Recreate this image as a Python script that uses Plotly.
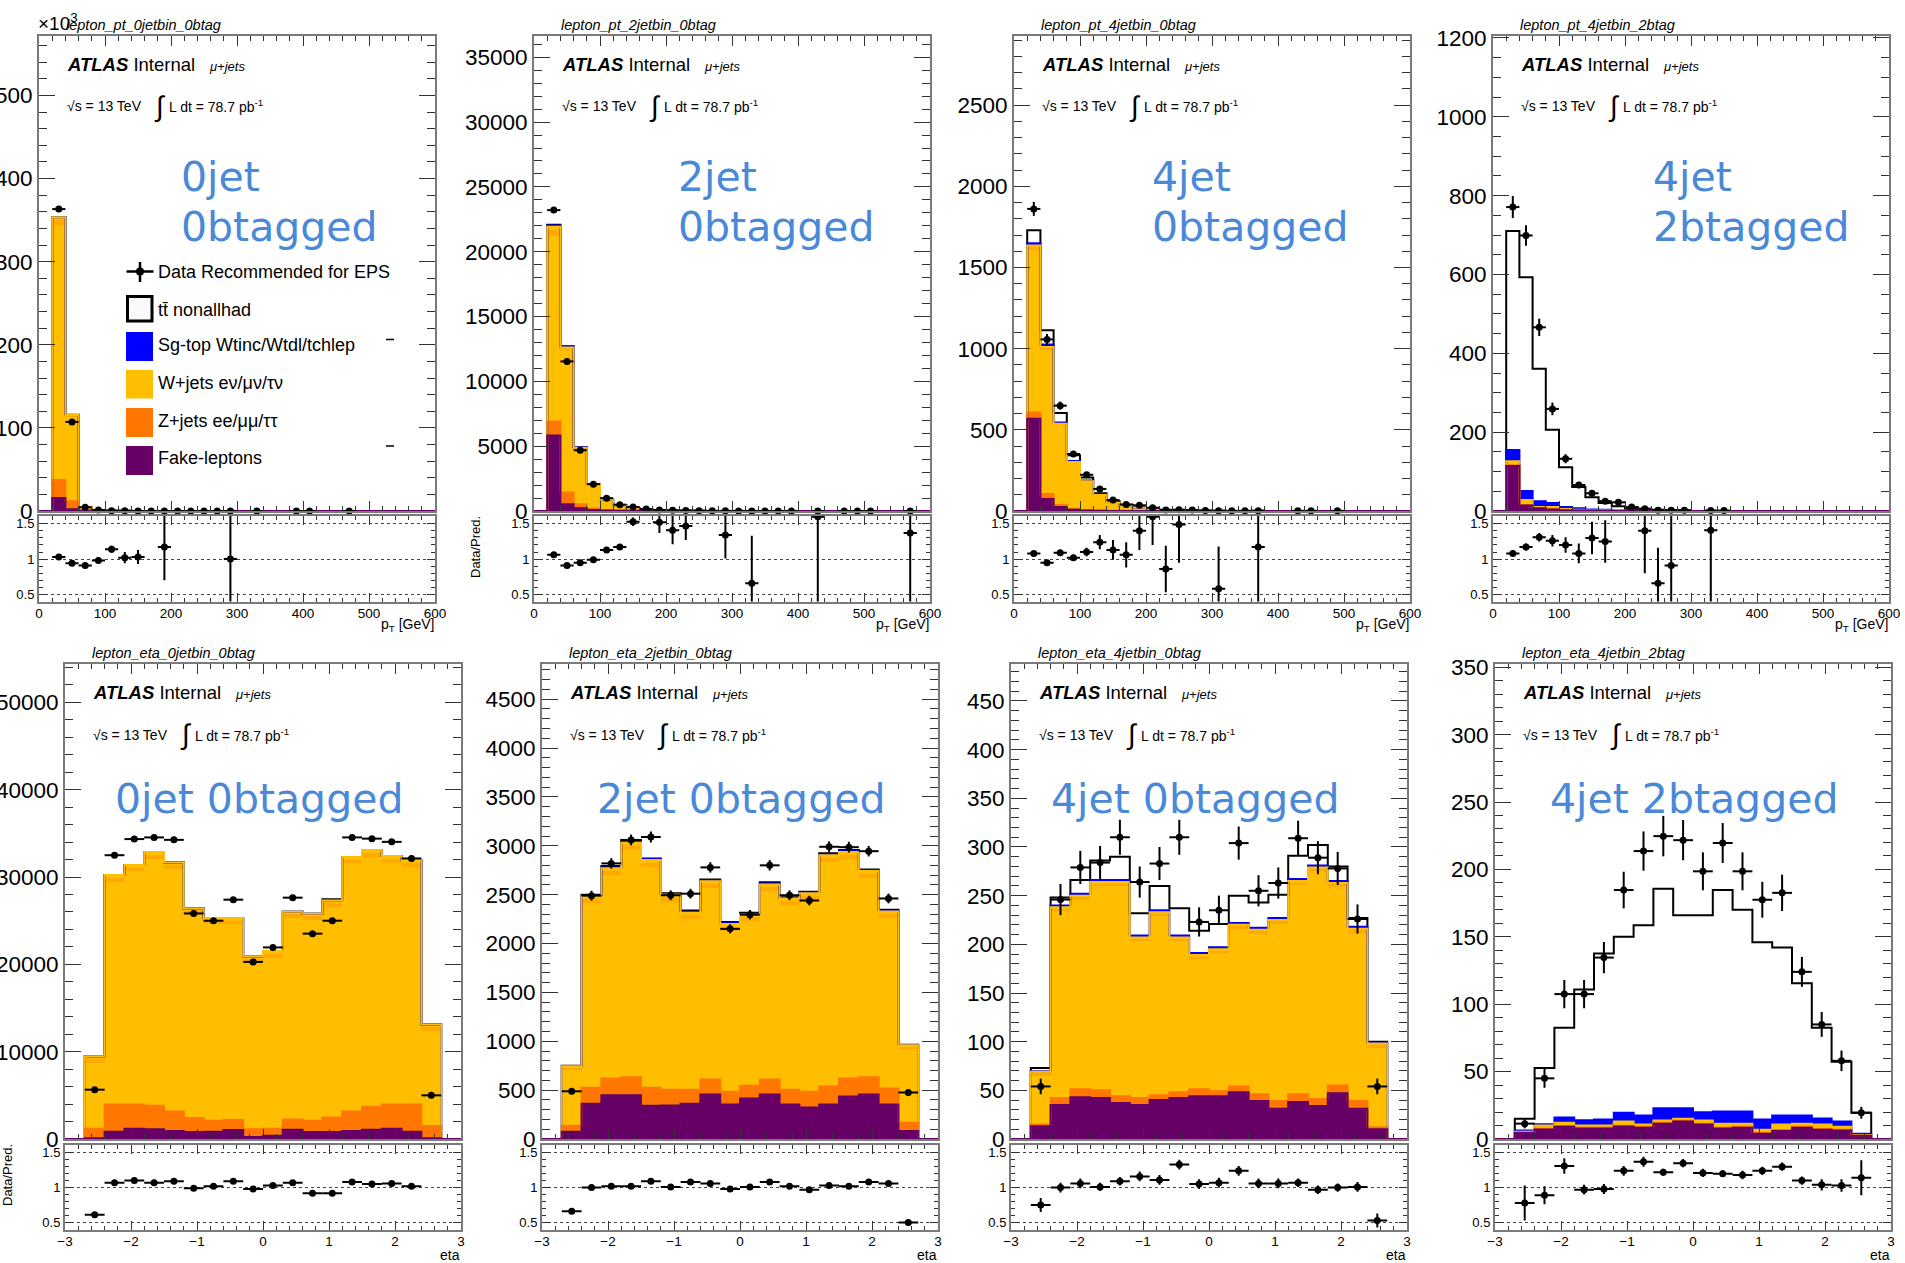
import plotly.graph_objects as go

FIG_W, FIG_H = 1905, 1263
FONT = "Liberation Sans, Arial, Helvetica, sans-serif"
LABEL_FONT = "DejaVu Sans, Verdana, sans-serif"

# ---------------- bins ----------------
PT_CENTERS = [10, 30, 50, 70, 90, 110, 130, 150, 170, 190,
              210, 230, 250, 270, 290, 310, 330, 350, 370, 390,
              410, 430, 450, 470, 490, 510, 530, 550, 570, 590]
PT_BIN_WIDTH = 20
ETA_CENTERS = [-2.85, -2.55, -2.25, -1.95, -1.65, -1.35, -1.05, -0.75, -0.45, -0.15,
               0.15, 0.45, 0.75, 1.05, 1.35, 1.65, 1.95, 2.25, 2.55, 2.85]
ETA_BIN_WIDTH = 0.3

# ---------------- panel 1 : lepton_pt_0jetbin_0btag (units of 10^3) ----------------
P1_FAKE = [0, 15.5, 2.0, 0.3, 0.1, 0.05, 0.02, 0.01, 0, 0,
           0, 0, 0, 0, 0, 0, 0, 0, 0, 0,
           0, 0, 0, 0, 0, 0, 0, 0, 0, 0]
P1_ZJETS = [0, 21.7, 9.6, 0.5, 0.1, 0.05, 0.02, 0.01, 0, 0,
            0, 0, 0, 0, 0, 0, 0, 0, 0, 0,
            0, 0, 0, 0, 0, 0, 0, 0, 0, 0]
P1_WJETS = [0, 306.8, 102.5, 4.0, 1.0, 0.24, 0.15, 0.07, 0.04, 0.02,
            0.012, 0.008, 0.006, 0.004, 0.003, 0.002, 0.002, 0.001, 0.001, 0.001,
            0.001, 0, 0, 0, 0, 0, 0, 0, 0, 0]
P1_WBAND = [0, 6.0, 1.2, 0, 0, 0, 0, 0, 0, 0,
            0, 0, 0, 0, 0, 0, 0, 0, 0, 0,
            0, 0, 0, 0, 0, 0, 0, 0, 0, 0]
P1_WTOP = [0, 3.6, 0.3, 0, 0, 0, 0, 0, 0, 0,
           0, 0, 0, 0, 0, 0, 0, 0, 0, 0,
           0, 0, 0, 0, 0, 0, 0, 0, 0, 0]
P1_SGTOP = [0, 0, 0, 0, 0, 0, 0, 0, 0, 0,
            0, 0, 0, 0, 0, 0, 0, 0, 0, 0,
            0, 0, 0, 0, 0, 0, 0, 0, 0, 0]
P1_TTBAR = [0, 0.3, 0.3, 0.05, 0.02, 0.01, 0, 0, 0, 0,
            0, 0, 0, 0, 0, 0, 0, 0, 0, 0,
            0, 0, 0, 0, 0, 0, 0, 0, 0, 0]
P1_DATA = [None, 363.3, 107.2, 4.5, 1.2, 0.4, 0.2, 0.1, 0.05, 0.03,
           0.02, 0.012, 0.01, 0.008, 0.005, None, 0.003, None, None, 0.002,
           0.002, None, None, 0.001, None, None, None, None, None, None]
P1_DATA_ERR = [0, 0.6, 0.33, 0.07, 0.035, 0.02, 0.014, 0.01, 0.007, 0.005,
               0.004, 0.003, 0.003, 0.003, 0.002, 0, 0.002, 0, 0, 0.001,
               0.001, 0, 0, 0.001, 0, 0, 0, 0, 0, 0]
P1_RATIO = [None, 1.03, 0.94, 0.91, 0.98, 1.14, 1.02, 1.03, None, 1.17,
            None, None, None, None, 1.0, None, None, None, None, None,
            None, None, None, None, None, None, None, None, None, None]
P1_RATIO_ERR = [0, 0.004, 0.006, 0.01, 0.02, 0.05, 0.08, 0.1, 0, 0.47,
                0, 0, 0, 0, 1.0, 0, 0, 0, 0, 0,
                0, 0, 0, 0, 0, 0, 0, 0, 0, 0]

# ---------------- panel 2 : lepton_pt_2jetbin_0btag ----------------
P2_FAKE = [0, 5830, 525, 216, 80, 30, 15, 8, 4, 2,
           1, 1, 0, 0, 0, 0, 0, 0, 0, 0,
           0, 0, 0, 0, 0, 0, 0, 0, 0, 0]
P2_ZJETS = [0, 1080, 895, 309, 120, 50, 25, 12, 6, 3,
            2, 1, 1, 0, 0, 0, 0, 0, 0, 0,
            0, 0, 0, 0, 0, 0, 0, 0, 0, 0]
P2_WJETS = [0, 14290, 11040, 4330, 1860, 780, 370, 178, 80, 48,
            32, 22, 9, 7.5, 7, 4, 4.5, 1.5, 1, 1,
            0.8, 1.2, 0.5, 0.5, 0.5, 0.4, 0.3, 0.3, 0.73, 0.2]
P2_WBAND = [0, 480, 100, 30, 0, 0, 0, 0, 0, 0,
            0, 0, 0, 0, 0, 0, 0, 0, 0, 0,
            0, 0, 0, 0, 0, 0, 0, 0, 0, 0]
P2_WTOP = [0, 250, 60, 0, 0, 0, 0, 0, 0, 0,
           0, 0, 0, 0, 0, 0, 0, 0, 0, 0,
           0, 0, 0, 0, 0, 0, 0, 0, 0, 0]
P2_SGTOP = [0, 100, 60, 30, 15, 8, 5, 3, 0, 0,
            0, 0, 0, 0, 0, 0, 0, 0, 0, 0,
            0, 0, 0, 0, 0, 0, 0, 0, 0, 0]
P2_TTBAR = [0, 50, 30, 20, 15, 8, 4, 2, 0, 0,
            0, 0, 0, 0, 0, 0, 0, 0, 0, 0,
            0, 0, 0, 0, 0, 0, 0, 0, 0, 0]
P2_DATA = [None, 23210, 11540, 4690, 2070, 990, 490, 310, 150, 80,
           50, 35, 20, 15, 10, 8, 3, 3, 2, 2,
           None, 2, None, 1, 1, 1, None, None, 1, None]
P2_DATA_ERR = [0, 152, 107, 68, 45, 31, 22, 18, 12, 9,
               7, 6, 4.5, 4, 3, 3, 1.7, 1.7, 1.4, 1.4,
               0, 1.4, 0, 1, 1, 1, 0, 0, 1, 0]
P2_RATIO = [None, 1.06, 0.91, 0.95, 0.99, 1.13, 1.17, 1.53, None, 1.52,
            1.41, 1.47, None, None, 1.34, None, 0.66, None, None, None,
            None, 1.60, None, None, None, None, None, None, 1.37, None]
P2_RATIO_ERR = [0, 0.01, 0.01, 0.015, 0.02, 0.03, 0.04, 0.06, 0, 0.15,
                0.2, 0.2, 0, 0, 0.33, 0, 0.67, 0, 0, 0,
                0, 1.6, 0, 0, 0, 0, 0, 0, 1.37, 0]

# ---------------- panel 3 : lepton_pt_4jetbin_0btag ----------------
P3_FAKE = [0, 569, 74, 25, 8, 3, 1, 0.5, 0.3, 0,
           0, 0, 0, 0, 0, 0, 0, 0, 0, 0,
           0, 0, 0, 0, 0, 0, 0, 0, 0, 0]
P3_ZJETS = [0, 37, 30, 12, 6, 3, 2, 1, 0.5, 0.3,
            0, 0, 0, 0, 0, 0, 0, 0, 0, 0,
            0, 0, 0, 0, 0, 0, 0, 0, 0, 0]
P3_WJETS = [0, 1000, 891, 495, 288, 177, 95, 50, 32, 21,
            10.5, 6, 4.5, 2.5, 1.5, 1.7, 0.5, 0.5, 0.85, 0.3,
            0.2, 0.2, 0.2, 0.1, 0.1, 0.05, 0, 0, 0, 0]
P3_WBAND = [0, 22, 10, 5, 0, 0, 0, 0, 0, 0,
            0, 0, 0, 0, 0, 0, 0, 0, 0, 0,
            0, 0, 0, 0, 0, 0, 0, 0, 0, 0]
P3_WTOP = [0, 8, 5, 0, 0, 0, 0, 0, 0, 0,
           0, 0, 0, 0, 0, 0, 0, 0, 0, 0,
           0, 0, 0, 0, 0, 0, 0, 0, 0, 0]
P3_SGTOP = [0, 14, 15, 8, 6, 5, 3, 2, 1, 1,
            0, 0, 0, 0, 0, 0, 0, 0, 0, 0,
            0, 0, 0, 0, 0, 0, 0, 0, 0, 0]
P3_TTBAR = [0, 80, 89, 59, 36, 18, 9, 7, 5, 3,
            2, 1, 0.9, 0.5, 0, 0, 0, 0, 0, 0,
            0, 0, 0, 0, 0, 0, 0, 0, 0, 0]
P3_DATA = [None, 1861, 1057, 649, 351, 223, 136, 67, 40, 35,
           20, 6, 8, 6, 3, 1, 1, 1, 1, None,
           None, 1, 1, None, 1, None, None, None, None, None]
P3_DATA_ERR = [0, 43, 33, 25, 19, 15, 12, 8, 6, 6,
               4.5, 2.5, 2.8, 2.5, 1.7, 1, 1, 1, 1, 0,
               0, 1, 1, 0, 1, 0, 0, 0, 0, 0]
P3_RATIO = [None, 1.08, 0.95, 1.09, 1.02, 1.10, 1.24, 1.13, 1.06, 1.40,
            1.60, 0.86, 1.49, None, None, 0.58, None, None, 1.17, None,
            None, None, None, None, None, None, None, None, None, None]
P3_RATIO_ERR = [0, 0.02, 0.02, 0.03, 0.04, 0.06, 0.10, 0.14, 0.18, 0.27,
                0.4, 0.33, 0.54, 0, 0, 0.6, 0, 0, 1.2, 0,
                0, 0, 0, 0, 0, 0, 0, 0, 0, 0]

# ---------------- panel 4 : lepton_pt_4jetbin_2btag ----------------
P4_FAKE = [0, 114, 14, 7, 4, 2, 1, 0.5, 0, 0,
           0, 0, 0, 0, 0, 0, 0, 0, 0, 0,
           0, 0, 0, 0, 0, 0, 0, 0, 0, 0]
P4_ZJETS = [0, 2, 1, 0.5, 0.5, 0, 0, 0, 0, 0,
            0, 0, 0, 0, 0, 0, 0, 0, 0, 0,
            0, 0, 0, 0, 0, 0, 0, 0, 0, 0]
P4_WJETS = [0, 10, 13, 2.5, 5.5, 3, 2, 1, 1, 0.5,
            0, 0, 0, 0, 0, 0, 0, 0, 0, 0,
            0, 0, 0, 0, 0, 0, 0, 0, 0, 0]
P4_WBAND = [0, 0, 0, 0, 0, 0, 0, 0, 0, 0,
            0, 0, 0, 0, 0, 0, 0, 0, 0, 0,
            0, 0, 0, 0, 0, 0, 0, 0, 0, 0]
P4_WTOP = [0, 0, 0, 0, 0, 0, 0, 0, 0, 0,
           0, 0, 0, 0, 0, 0, 0, 0, 0, 0,
           0, 0, 0, 0, 0, 0, 0, 0, 0, 0]
P4_SGTOP = [0, 29, 23, 14.5, 10, 5, 4, 2.5, 2, 1,
            1, 0.8, 0.5, 0.3, 0, 0, 0, 0, 0, 0,
            0, 0, 0, 0, 0, 0, 0, 0, 0, 0]
P4_TTBAR = [0, 555, 542, 336.5, 186, 101, 54, 31, 17, 10.5,
            5, 3.5, 2.5, 1.9, 1, 0, 0.71, 0.3, 0, 0,
            0, 0, 0, 0, 0, 0, 0, 0, 0, 0]
P4_DATA = [None, 771, 699, 466, 259, 132.5, 66, 45, 25, 22,
           10, 6, 2, 2, 2, None, 1, 1, None, None,
           None, None, None, None, None, None, None, None, None, None]
P4_DATA_ERR = [0, 28, 26, 22, 16, 11.5, 8, 6.7, 5, 4.7,
               3.2, 2.4, 1.4, 1.4, 1.4, 0, 1, 1, 0, 0,
               0, 0, 0, 0, 0, 0, 0, 0, 0, 0]
P4_RATIO = [None, 1.08, 1.17, 1.31, 1.26, 1.20, 1.08, 1.30, 1.25, None,
            None, 1.40, 0.66, 0.91, None, None, 1.41, None, None, None,
            None, None, None, None, None, None, None, None, None, None]
P4_RATIO_ERR = [0, 0.04, 0.05, 0.06, 0.08, 0.11, 0.14, 0.23, 0.30, 0,
                0, 0.6, 0.5, 0.9, 0, 0, 1.4, 0, 0, 0,
                0, 0, 0, 0, 0, 0, 0, 0, 0, 0]

# ---------------- panel 5 : lepton_eta_0jetbin_0btag ----------------
P5_FAKE = [0, 90, 830, 1160, 1110, 930, 790, 830, 1020, 230,
           370, 1060, 790, 790, 930, 1060, 1160, 830, 90, 0]
P5_ZJETS = [0, 1070, 3110, 2780, 2690, 2220, 1620, 1250, 1160, 880,
            790, 1160, 1290, 1660, 2220, 2640, 2780, 3110, 1390, 0]
P5_WJETS = [0, 7580, 25540, 26700, 28320, 27770, 23230, 22490, 22390, 19070,
            19620, 23050, 22960, 24110, 28410, 28650, 27720, 27250, 10870, 0]
P5_WBAND = [0, 450, 450, 450, 450, 450, 450, 450, 450, 450,
            450, 450, 450, 450, 450, 450, 450, 450, 450, 0]
P5_WTOP = [0, 300, 300, 300, 300, 300, 300, 300, 300, 300,
           300, 300, 300, 300, 300, 300, 300, 300, 300, 0]
P5_SGTOP = [0, 0, 0, 0, 0, 0, 0, 0, 0, 0,
            0, 0, 0, 0, 0, 0, 0, 0, 0, 0]
P5_TTBAR = [0, 0, 0, 0, 0, 0, 0, 0, 0, 0,
            0, 0, 0, 150, 0, 0, 0, 0, 0, 0]
P5_DATA = [None, 5650, 32500, 34350, 34540, 34260, 25830, 25000, 27410, 20280,
           21940, 27640, 23520, 25000, 34540, 34400, 34030, 32130, 5000, None]
P5_DATA_ERR = [0, 75, 180, 185, 186, 185, 161, 158, 166, 142,
               148, 166, 153, 158, 186, 185, 184, 179, 71, 0]
P5_RATIO = [None, 0.61, 1.07, 1.10, 1.07, 1.09, 0.99, 1.02, 1.09, 0.98,
            1.03, 1.07, 0.92, 0.92, 1.08, 1.05, 1.06, 1.02, None, None]
P5_RATIO_ERR = [0, 0.01, 0.008, 0.008, 0.008, 0.008, 0.008, 0.008, 0.008, 0.008,
                0.008, 0.008, 0.008, 0.008, 0.008, 0.008, 0.008, 0.008, 0, 0]

# ---------------- panel 6 : lepton_eta_2jetbin_0btag ----------------
P6_FAKE = [0, 74, 360, 447, 447, 339, 343, 360, 455, 352,
           414, 455, 352, 323, 352, 434, 455, 352, 83, 0]
P6_ZJETS = [0, 62, 165, 173, 186, 186, 162, 145, 153, 132,
            132, 153, 153, 161, 186, 186, 178, 165, 82, 0]
P6_WJETS = [0, 574, 1888, 2083, 2330, 2261, 1925, 1743, 1962, 1648,
            1681, 1929, 1888, 1963, 2297, 2248, 2041, 1743, 761, 0]
P6_WBAND = [0, 20, 40, 40, 40, 40, 40, 40, 40, 40,
            40, 40, 40, 40, 40, 40, 40, 40, 20, 0]
P6_WTOP = [0, 14, 28, 28, 28, 28, 28, 28, 28, 28,
           28, 28, 28, 28, 28, 28, 28, 28, 14, 0]
P6_SGTOP = [0, 4, 8, 8, 8, 8, 8, 8, 8, 8,
            8, 8, 6, 8, 8, 8, 8, 8, 3, 0]
P6_TTBAR = [0, 2, 11, 13, 21, 8, 9, 13, 9, 13,
            13, 13, 6, 8, 13, 13, 8, 9, 2, 0]
P6_DATA = [None, 488, 2490, 2820, 3060, 3090, 2494, 2510, 2779, 2150,
           2295, 2800, 2494, 2440, 2990, 2986, 2945, 2461, 476, None]
P6_DATA_ERR = [0, 22, 50, 53, 55, 56, 50, 50, 53, 46,
               48, 53, 50, 49, 55, 55, 54, 50, 22, 0]
P6_RATIO = [None, 0.66, 1.0, 1.02, 1.02, 1.09, 1.01, 1.08, 1.06, 0.98,
            1.01, 1.08, 1.02, 0.97, 1.03, 1.02, 1.08, 1.06, 0.50, None]
P6_RATIO_ERR = [0, 0.03, 0.02, 0.02, 0.02, 0.02, 0.02, 0.02, 0.02, 0.02,
                0.02, 0.02, 0.02, 0.02, 0.02, 0.02, 0.02, 0.02, 0.03, 0]

# ---------------- panel 7 : lepton_eta_4jetbin_0btag ----------------
P7_FAKE = [0, 13, 35, 43, 42, 37, 35, 40, 42, 44,
           44, 48, 39, 31, 38, 34, 47, 31, 10, 0]
P7_ZJETS = [0, 2, 7, 8, 8, 7, 7, 5, 6, 7,
            5, 6, 7, 8, 8, 7, 8, 8, 2, 0]
P7_WJETS = [0, 50, 192, 195, 210, 216, 161, 184, 155, 134,
            142, 162, 165, 182, 215, 234, 204, 173, 82, 0]
P7_WBAND = [0, 3, 3, 3, 3, 3, 3, 3, 3, 3,
            3, 3, 3, 3, 3, 3, 3, 3, 3, 0]
P7_WTOP = [0, 1, 1, 1, 1, 1, 1, 1, 1, 1,
           1, 1, 1, 1, 1, 1, 1, 1, 1, 0]
P7_SGTOP = [0, 0.5, 2, 2, 2, 2, 2, 2, 2, 2,
            2, 2, 2, 2, 2, 2, 2, 2, 0.5, 0]
P7_TTBAR = [0, 3.5, 8, 14, 20, 24, 23, 25, 28, 23,
            24, 28, 26, 24, 24, 21, 15, 9, 1.5, 0]
P7_DATA = [None, 54, 246, 279, 284, 310, 264, 283, 310, 223,
           235, 304, 255, 263, 309, 289, 278, 226, 54, None]
P7_DATA_ERR = [0, 8, 16, 17, 17, 18, 16, 17, 18, 15,
               15, 17, 16, 16, 18, 17, 17, 15, 8, 0]
P7_RATIO = [None, 0.75, 1.0, 1.06, 1.01, 1.09, 1.16, 1.11, 1.33, 1.05,
            1.07, 1.24, 1.06, 1.06, 1.07, 0.97, 1.0, 1.01, 0.53, None]
P7_RATIO_ERR = [0, 0.1, 0.07, 0.07, 0.06, 0.06, 0.07, 0.07, 0.07, 0.07,
                0.07, 0.07, 0.07, 0.07, 0.06, 0.06, 0.06, 0.07, 0.1, 0]

# ---------------- panel 8 : lepton_eta_4jetbin_2btag ----------------
P8_FAKE = [0, 4.5, 7, 9, 7.8, 7.8, 9.3, 8.4, 11.4, 12.9,
           10.8, 7.8, 8.4, 3.9, 6, 8.4, 6.9, 6.3, 2.4, 0]
P8_ZJETS = [0, 0.3, 0.6, 0.6, 0.6, 0.6, 0.6, 0.6, 0.6, 0.6,
            0.6, 0.6, 0.6, 0.6, 0.6, 0.6, 0.6, 0.6, 0.2, 0]
P8_WJETS = [0, 0.6, 2.4, 2.4, 1.6, 1.6, 3.1, 1.8, 1.8, 1.5,
            2.4, 3.0, 2.4, 2.4, 4.2, 2.4, 3.3, 2.1, 0.4, 0]
P8_WBAND = [0, 0, 0, 0, 0, 0, 0, 0, 0, 0,
            0, 0, 0, 0, 0, 0, 0, 0, 0, 0]
P8_WTOP = [0, 0, 0, 0, 0, 0, 0, 0, 0, 0,
           0, 0, 0, 0, 0, 0, 0, 0, 0, 0]
P8_SGTOP = [0, 0.9, 1, 4, 4, 4.4, 6.5, 6.6, 9, 7.8,
            6, 9, 9, 7.5, 6.6, 6, 4.5, 4, 0.9, 0]
P8_TTBAR = [0, 8.7, 41.6, 66.6, 97, 123.2, 130.5, 141.2, 162.8, 143.2,
            146.2, 164.3, 149.6, 131.6, 124.6, 98.2, 67.3, 44.4, 15.6, 0]
P8_DATA = [None, 11.4, 45, 107.5, 107.5, 134.6, 184.7, 213.6, 224.7, 221.7,
           198.6, 219.6, 198.6, 177.5, 182.6, 124, 85, 58, 19.5, None]
P8_DATA_ERR = [0, 3.5, 7, 10.5, 10.5, 11.6, 13.6, 14.6, 15, 14.9,
               14.1, 14.8, 14.1, 13.3, 13.5, 11.1, 9.2, 7.6, 4.4, 0]
P8_RATIO = [None, 0.78, 0.89, 1.31, 0.97, 0.98, 1.24, 1.37, 1.22, 1.35,
            1.21, 1.20, 1.18, 1.24, 1.30, 1.10, 1.04, 1.03, 1.14, None]
P8_RATIO_ERR = [0, 0.25, 0.13, 0.11, 0.07, 0.07, 0.07, 0.07, 0.05, 0.06,
                0.06, 0.05, 0.06, 0.06, 0.06, 0.06, 0.08, 0.09, 0.25, 0]

TITLES = ["lepton_pt_0jetbin_0btag", "lepton_pt_2jetbin_0btag",
          "lepton_pt_4jetbin_0btag", "lepton_pt_4jetbin_2btag",
          "lepton_eta_0jetbin_0btag", "lepton_eta_2jetbin_0btag",
          "lepton_eta_4jetbin_0btag", "lepton_eta_4jetbin_2btag"]
REGION_LABELS = [["0jet", "0btagged"], ["2jet", "0btagged"], ["4jet", "0btagged"], ["4jet", "2btagged"],
                 ["0jet 0btagged"], ["2jet 0btagged"], ["4jet 0btagged"], ["4jet 2btagged"]]
LEGEND_LABELS = ["Data Recommended for EPS", "tt\u0304 nonallhad",
                 "Sg-top Wtinc/Wtdl/tchlep", "W+jets e\u03bd/\u03bc\u03bd/\u03c4\u03bd",
                 "Z+jets ee/\u03bc\u03bc/\u03c4\u03c4", "Fake-leptons"]

PANEL_DATA = [
    (P1_FAKE, P1_ZJETS, P1_WJETS, P1_WBAND, P1_WTOP, P1_SGTOP, P1_TTBAR, P1_DATA, P1_DATA_ERR, P1_RATIO, P1_RATIO_ERR),
    (P2_FAKE, P2_ZJETS, P2_WJETS, P2_WBAND, P2_WTOP, P2_SGTOP, P2_TTBAR, P2_DATA, P2_DATA_ERR, P2_RATIO, P2_RATIO_ERR),
    (P3_FAKE, P3_ZJETS, P3_WJETS, P3_WBAND, P3_WTOP, P3_SGTOP, P3_TTBAR, P3_DATA, P3_DATA_ERR, P3_RATIO, P3_RATIO_ERR),
    (P4_FAKE, P4_ZJETS, P4_WJETS, P4_WBAND, P4_WTOP, P4_SGTOP, P4_TTBAR, P4_DATA, P4_DATA_ERR, P4_RATIO, P4_RATIO_ERR),
    (P5_FAKE, P5_ZJETS, P5_WJETS, P5_WBAND, P5_WTOP, P5_SGTOP, P5_TTBAR, P5_DATA, P5_DATA_ERR, P5_RATIO, P5_RATIO_ERR),
    (P6_FAKE, P6_ZJETS, P6_WJETS, P6_WBAND, P6_WTOP, P6_SGTOP, P6_TTBAR, P6_DATA, P6_DATA_ERR, P6_RATIO, P6_RATIO_ERR),
    (P7_FAKE, P7_ZJETS, P7_WJETS, P7_WBAND, P7_WTOP, P7_SGTOP, P7_TTBAR, P7_DATA, P7_DATA_ERR, P7_RATIO, P7_RATIO_ERR),
    (P8_FAKE, P8_ZJETS, P8_WJETS, P8_WBAND, P8_WTOP, P8_SGTOP, P8_TTBAR, P8_DATA, P8_DATA_ERR, P8_RATIO, P8_RATIO_ERR),
]

# ---------------- style / geometry ----------------
C_FAKE = "#660066"
C_Z = "#ff7700"
C_W = "#ffbf00"
C_WBAND = "#ffa800"
C_SG = "#0000ff"
C_TT = "#ffffff"
C_LABEL = "#4a89d7"
FRAME_COLOR = "#7a7a7a"
TICK_COLOR = "#333333"

FRAME_W = 396
# (left px, row, y-axis max, major dtick, minor dtick, region-label x px)
GEOM = [
    (39, 0, 571.6, 100, 20, 180),
    (534, 0, 36640, 5000, 1000, 676.5),
    (1014, 0, 2926, 500, 100, 1150.5),
    (1493, 0, 1205, 200, 50, 1651.5),
    (65, 1, 54400, 10000, 2000, 113.5),
    (542, 1, 4860, 500, 100, 595.5),
    (1011, 1, 488, 50, 10, 1050),
    (1495, 1, 352.4, 50, 10, 1548.5),
]
ROWS = [
    dict(main=(36, 511), ratio=(516, 601.5), title_y=25, atlas_y=64.3, lumi_y=106.5,
         label_y=[177, 227], axis_title_y=625),
    dict(main=(664, 1139), ratio=(1145, 1229.5), title_y=653.4, atlas_y=692.6, lumi_y=734.5,
         label_y=[799], axis_title_y=1255),
]


def fx(px):
    return px / FIG_W


def fy(py):
    return 1 - py / FIG_H


def ann(x, y, text, size, color="#000000", xanchor="left", yanchor="middle", family=FONT, angle=0):
    return dict(x=fx(x), y=fy(y), xref="paper", yref="paper", text=text, showarrow=False,
                xanchor=xanchor, yanchor=yanchor, textangle=angle, borderpad=0,
                font=dict(size=size, color=color, family=family))


def step_xy(edges, vals):
    xs = [edges[0]] + edges[:-1] + [edges[-1], edges[-1]]
    ys = [0] + list(vals) + [vals[-1], 0]
    return xs, ys


fig = go.Figure()
layout = dict(width=FIG_W, height=FIG_H, autosize=False,
              margin=dict(l=0, r=0, t=0, b=0, pad=0, autoexpand=False),
              paper_bgcolor="white", plot_bgcolor="white",
              barmode="stack", showlegend=False,
              font=dict(family=FONT, color="black"))
annotations = []
shapes = []

for p in range(8):
    fake, zj, wj, wband, wtop, sg, tt, data, derr, ratio, rerr = PANEL_DATA[p]
    left, row, ymax, dtick, minor_dtick, label_x = GEOM[p]
    r = ROWS[row]
    is_pt = p < 4
    centers = PT_CENTERS if is_pt else ETA_CENTERS
    bw = PT_BIN_WIDTH if is_pt else ETA_BIN_WIDTH
    edges = [round(c - bw / 2, 4) for c in centers] + [round(centers[-1] + bw / 2, 4)]
    xr = [edges[0], edges[-1]]

    mi, ri = 2 * p + 1, 2 * p + 2
    mx = "x" if mi == 1 else f"x{mi}"
    my = "y" if mi == 1 else f"y{mi}"
    rx, ry = f"x{ri}", f"y{ri}"

    # stacked histogram fills
    for vals, col in [(fake, C_FAKE), (zj, C_Z), (wj, C_W), (wband, C_WBAND), (wtop, C_W), (sg, C_SG), (tt, C_TT)]:
        fig.add_trace(go.Bar(x=centers, y=vals, width=bw, marker=dict(color=col, line=dict(width=0)),
                             xaxis=mx, yaxis=my, hoverinfo="skip", showlegend=False))

    # histogram contours (ROOT-like: top of stack first, lower ones drawn over it)
    c_fake, c_z, c_w, c_sg, c_tt = [], [], [], [], []
    for i in range(len(centers)):
        a = fake[i]
        b = a + zj[i]
        c = b + wj[i] + wband[i] + wtop[i]
        d = c + sg[i]
        e = d + tt[i]
        c_fake.append(a); c_z.append(b); c_w.append(c); c_sg.append(d); c_tt.append(e)
    for cum, col in [(c_tt, "#000000"), (c_sg, C_SG), (c_w, C_W), (c_z, C_Z), (c_fake, C_FAKE)]:
        xs, ys = step_xy(edges, cum)
        fig.add_trace(go.Scatter(x=xs, y=ys, mode="lines", line=dict(shape="hv", color=col, width=2),
                                 xaxis=mx, yaxis=my, hoverinfo="skip", showlegend=False))

    # data points
    fig.add_trace(go.Scatter(x=centers, y=data, mode="markers",
                             marker=dict(color="black", size=7),
                             error_y=dict(type="data", array=derr, visible=True, thickness=2, width=0, color="black"),
                             error_x=dict(type="constant", value=bw / 2, visible=True, thickness=2, width=0, color="black"),
                             cliponaxis=False, xaxis=mx, yaxis=my, hoverinfo="skip", showlegend=False))
    # ratio points
    fig.add_trace(go.Scatter(x=centers, y=ratio, mode="markers",
                             marker=dict(color="black", size=7),
                             error_y=dict(type="data", array=rerr, visible=True, thickness=2, width=0, color="black"),
                             error_x=dict(type="constant", value=bw / 2, visible=True, thickness=2, width=0, color="black"),
                             xaxis=rx, yaxis=ry, hoverinfo="skip", showlegend=False))

    dom_x = [fx(left), fx(left + FRAME_W)]
    x_common = dict(range=xr, tick0=0, dtick=(100 if is_pt else 1), ticks="inside",
                    tickcolor=TICK_COLOR, tickwidth=1, showline=True, linecolor=FRAME_COLOR, linewidth=2,
                    mirror="ticks", showgrid=False, zeroline=False, fixedrange=True, automargin=False)
    xkey_m = "xaxis" if mi == 1 else f"xaxis{mi}"
    ykey_m = "yaxis" if mi == 1 else f"yaxis{mi}"
    layout[xkey_m] = dict(domain=dom_x, anchor=my, showticklabels=False, ticklen=10,
                          minor=dict(dtick=(20 if is_pt else 0.2), ticks="inside", ticklen=5,
                                     tickcolor=TICK_COLOR, tickwidth=1), **x_common)
    layout[ykey_m] = dict(domain=[fy(r["main"][1]), fy(r["main"][0])], anchor=mx, range=[0, ymax],
                          tick0=0, dtick=dtick, tickformat="d", ticks="inside", ticklen=16,
                          tickcolor=TICK_COLOR, tickwidth=1, automargin=False,
                          minor=dict(dtick=minor_dtick, ticks="inside", ticklen=8, tickcolor=TICK_COLOR, tickwidth=1),
                          tickfont=dict(size=22.5, family=FONT, color="black"),
                          showline=True, linecolor=FRAME_COLOR, linewidth=2, mirror="ticks",
                          showgrid=False, zeroline=False, fixedrange=True)
    layout[f"xaxis{ri}"] = dict(domain=dom_x, anchor=ry, showticklabels=True, ticklen=9,
                                tickfont=dict(size=13.5, family=FONT, color="black"), ticklabelstandoff=-2,
                                minor=dict(dtick=(20 if is_pt else 0.2), ticks="inside", ticklen=4,
                                           tickcolor=TICK_COLOR, tickwidth=1), **x_common)
    layout[f"yaxis{ri}"] = dict(domain=[fy(r["ratio"][1]), fy(r["ratio"][0])], anchor=rx, range=[0.4, 1.61],
                                tick0=0.5, dtick=0.5, ticks="inside", ticklen=8, tickcolor=TICK_COLOR, tickwidth=1,
                                minor=dict(dtick=0.1, ticks="inside", ticklen=4, tickcolor=TICK_COLOR, tickwidth=1),
                                tickfont=dict(size=13, family=FONT, color="black"), automargin=False,
                                showline=True, linecolor=FRAME_COLOR, linewidth=2, mirror="ticks",
                                showgrid=True, gridcolor="#444444", griddash="dot", gridwidth=1,
                                zeroline=False, fixedrange=True)

    # texts
    annotations.append(ann(left + 26, r["title_y"], f"<i>{TITLES[p]}</i>", 14.5))
    annotations.append(ann(left + 27, r["atlas_y"], "<b><i>ATLAS</i></b> Internal", 18.5))
    annotations.append(ann(left + 169, r["atlas_y"] + 2, "<i>\u03bc+jets</i>", 13))
    annotations.append(ann(left + 27, r["lumi_y"], "\u221as = 13 TeV", 14))
    annotations.append(ann(left + 114, r["lumi_y"], "\u222b", 28))
    annotations.append(ann(left + 129, r["lumi_y"], "L dt = 78.7 pb<sup>-1</sup>", 14))
    for k, txt in enumerate(REGION_LABELS[p]):
        annotations.append(ann(label_x, r["label_y"][k], txt, 41, color=C_LABEL, family=LABEL_FONT))
    annotations.append(ann(left + FRAME_W, r["axis_title_y"],
                           "p<sub>T</sub> [GeV]" if is_pt else "eta", 14, xanchor="right"))

# ratio y titles visible in the picture
annotations.append(ann(475, 547, "Data/Pred.", 13, xanchor="center", angle=-90))
annotations.append(ann(7, 1175, "Data/Pred.", 13, xanchor="center", angle=-90))
# x10^3 multiplier for the first panel
annotations.append(ann(37, 22, "\u00d710<sup>3</sup>", 19))

# legend of the first panel
LEG_TEXT_Y = [272, 310, 345, 383, 421, 458]
for k, txt in enumerate(LEGEND_LABELS):
    annotations.append(ann(157, LEG_TEXT_Y[k], txt, 18))
# data marker symbol
shapes.append(dict(type="line", xref="paper", yref="paper", x0=fx(126.5), x1=fx(153.5), y0=fy(271.5), y1=fy(271.5),
                   line=dict(color="black", width=2.5)))
shapes.append(dict(type="line", xref="paper", yref="paper", x0=fx(140), x1=fx(140), y0=fy(262), y1=fy(282),
                   line=dict(color="black", width=2.5)))
shapes.append(dict(type="circle", xref="paper", yref="paper", x0=fx(136), x1=fx(144), y0=fy(275.5), y1=fy(267.5),
                   fillcolor="black", line=dict(color="black", width=0)))
LEG_BOXES = [(296.5, 321, C_TT), (332, 361, C_SG), (370, 398.5, C_W), (408, 437, C_Z), (446, 475, C_FAKE)]
for k, (y0, y1, col) in enumerate(LEG_BOXES):
    if k == 0:
        shapes.append(dict(type="rect", xref="paper", yref="paper", x0=fx(127.5), x1=fx(152), y0=fy(y1), y1=fy(y0),
                           fillcolor="#fafafa", line=dict(color="black", width=3)))
    else:
        shapes.append(dict(type="rect", xref="paper", yref="paper", x0=fx(126), x1=fx(153), y0=fy(y1), y1=fy(y0),
                           fillcolor=col, line=dict(width=0)))
# two stray legend dashes visible at the right of the first panel
for dash_y in (339.5, 446):
    shapes.append(dict(type="line", xref="paper", yref="paper", x0=fx(386), x1=fx(394), y0=fy(dash_y), y1=fy(dash_y),
                       line=dict(color="black", width=1.5)))

layout["annotations"] = annotations
layout["shapes"] = shapes
fig.update_layout(**layout)

PIN_PAGE = (
    "document.documentElement.style.margin='0';"
    "document.documentElement.style.overflow='hidden';"
    "document.body.style.margin='0';"
    "document.body.style.overflow='hidden';"
    "var gd=document.querySelector('.plotly-graph-div');"
    "if(gd){gd.style.position='fixed';gd.style.left='0px';gd.style.top='0px';}"
)
fig.write_html("out.html", config={"displayModeBar": False}, post_script=PIN_PAGE)
